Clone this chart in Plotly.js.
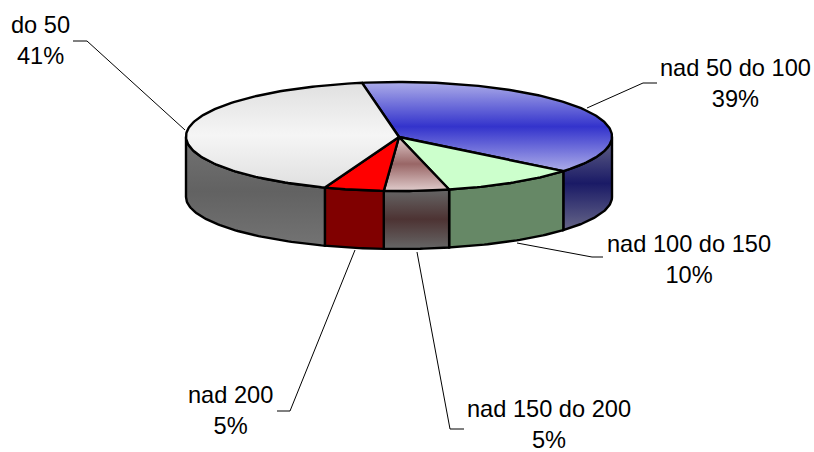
<!DOCTYPE html>
<html>
<head>
<meta charset="utf-8">
<script src="https://cdn.plot.ly/plotly-3.0.1.min.js"></script>
<style>html,body{margin:0;padding:0;background:#fff}#c{width:814px;height:452px}</style>
</head>
<body>
<div id="c"></div>
<script>
// Data (clockwise from the start angle)
const categories = ['nad 50 do 100', 'nad 100 do 150', 'nad 150 do 200', 'nad 200', 'do 50'];
const values = [38.6, 10.2, 4.9, 4.5, 41.4];
const percentLabels = ['39%', '10%', '5%', '5%', '41%'];

// Styles
const topColors = [
  [[0,'#adade9'],[0.5,'#3333cc'],[1,'#adade9']],
  [[0,'#ccffcc'],[1,'#ccffcc']],
  [[0,'#e0cccc'],[0.5,'#996666'],[1,'#e0cccc']],
  [[0,'#ff0000'],[1,'#ff0000']],
  [[0,'#e0e0e0'],[0.5,'#f5f5f5'],[1,'#e0e0e0']]
];
const sideColors = [
  [[0,'#666688'],[0.5,'#1a1a66'],[1,'#666688']],
  [[0,'#668866'],[1,'#668866']],
  [[0,'#666666'],[0.5,'#4d3333'],[1,'#666666']],
  [[0,'#800000'],[1,'#800000']],
  [[0,'#737373'],[0.5,'#626262'],[1,'#737373']]
];
// Geometry of the disc, in plot units
const cx = 399, rx = 213, topCy = 136.5, topRy = 54.5, botCy = 197, botRy = 52, apexY = 137;
const startAngle = -10;
// Label layout: text centre and leader path
const labelLayout = [
  {x:735, y:83,  lx:[587,643,657], ly:[108,83,83]},
  {x:689, y:259, lx:[517,592,603], ly:[243,257,257]},
  {x:549, y:424, lx:[417,450,464], ly:[252,429,429]},
  {x:230, y:410, lx:[355,290,277], ly:[250,411,411]},
  {x:40,  y:40,  lx:[185,87,73],   ly:[130,41,41]}
];

const rad = d => d * Math.PI / 180;
const px = a => cx + rx * Math.sin(rad(a));
const topY = a => topCy - topRy * Math.cos(rad(a));
const botY = a => botCy - botRy * Math.cos(rad(a));
function sweep(a, b) {
  const out = [];
  const n = Math.max(2, Math.ceil(Math.abs(b - a)));
  for (let i = 0; i <= n; i++) out.push(a + (b - a) * i / n);
  return out;
}
const total = values.reduce((s, v) => s + v, 0);
let acc = startAngle;
const slices = values.map(v => {
  const a = acc, b = acc + v / total * 360;
  acc = b;
  return [a, b];
});

const traces = [];
const outline = {color:'#000000', width:2.4};
// leaders
labelLayout.forEach(l => traces.push({
  type:'scatter', mode:'lines', x:l.lx, y:l.ly,
  line:{color:'#000000', width:1}, hoverinfo:'skip', showlegend:false
}));
// visible side faces
slices.forEach(([a, b], i) => {
  const lo = Math.max(a, 90), hi = Math.min(b, 270);
  if (lo >= hi) return;
  const up = sweep(lo, hi), down = sweep(hi, lo);
  traces.push({
    type:'scatter', mode:'lines', fill:'toself',
    x: up.map(px).concat(down.map(px), [px(lo)]),
    y: up.map(topY).concat(down.map(botY), [topY(lo)]),
    line:outline, fillgradient:{type:'vertical', colorscale:sideColors[i]},
    name:categories[i], hoverinfo:'name', showlegend:false
  });
});
// top faces
slices.forEach(([a, b], i) => {
  const arc = sweep(a, b);
  traces.push({
    type:'scatter', mode:'lines', fill:'toself',
    x: [cx].concat(arc.map(px), [cx]),
    y: [apexY].concat(arc.map(topY), [apexY]),
    line:outline, fillgradient:{type:'vertical', colorscale:topColors[i]},
    name:categories[i], hoverinfo:'name', showlegend:false
  });
});

const annotations = categories.map((c, i) => ({
  xref:'x', yref:'y', x:labelLayout[i].x, y:labelLayout[i].y,
  text:c + '<br>' + percentLabels[i], showarrow:false,
  xanchor:'center', yanchor:'middle', align:'center',
  font:{family:'"Liberation Sans", Arial, sans-serif', size:23.6, color:'#000000'}
}));

Plotly.newPlot('c', traces, {
  width:814, height:452,
  margin:{l:0, r:0, t:0, b:0},
  paper_bgcolor:'#ffffff', plot_bgcolor:'#ffffff',
  xaxis:{range:[0,814], visible:false, fixedrange:true},
  yaxis:{range:[452,0], visible:false, fixedrange:true},
  showlegend:false,
  annotations
}, {displayModeBar:false, staticPlot:true});
</script>
</body>
</html>
